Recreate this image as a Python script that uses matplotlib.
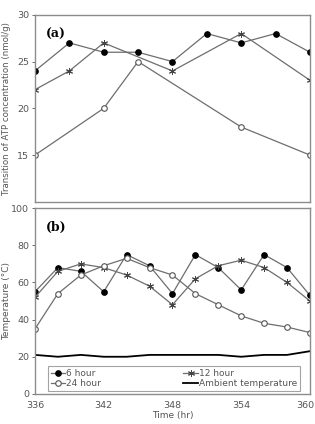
import matplotlib
matplotlib.use("Agg")
import matplotlib.pyplot as plt
import matplotlib.transforms as mtransforms

# (a) ATP concentration (nmol/g)
t6_atp = [336, 339, 342, 345, 348, 351, 354, 357, 360]
atp6 = [24, 27, 26, 26, 25, 28, 27, 28, 26]
t12_atp = [336, 339, 342, 348, 354, 360]
atp12 = [22, 24, 27, 24, 28, 23]
t24_atp = [336, 342, 345, 354, 360]
atp24 = [15, 20, 25, 18, 15]

# (b) temperature (C)
t_temp = [336, 338, 340, 342, 344, 346, 348, 350, 352, 354, 356, 358, 360]
temp6 = [55, 68, 66, 55, 75, 69, 54, 75, 68, 56, 75, 68, 53]
temp12 = [52, 66, 70, 68, 64, 58, 48, 62, 69, 72, 68, 60, 50]
temp24 = [35, 54, 64, 69, 73, 68, 64, 54, 48, 42, 38, 36, 33]
ambient = [21, 20, 21, 20, 20, 21, 21, 21, 21, 20, 21, 21, 23]

xticks = [336, 342, 348, 354, 360]
line_c = "#6e6e6e"
spine_c = "#8c8c8c"
text_c = "#555555"

fig = plt.figure(figsize=(3.15, 4.24), dpi=100)
ax1 = fig.add_axes([0.111, 0.524, 0.873, 0.441])
ax2 = fig.add_axes([0.111, 0.071, 0.873, 0.438])

mk = dict(markersize=4, markeredgewidth=0.8)
style6 = dict(color=line_c, marker="o", markerfacecolor="black", markeredgecolor="black", lw=0.9, **mk)
style12 = dict(color=line_c, marker=(6, 2, 0), markeredgecolor="#444444", lw=0.9, markersize=5, markeredgewidth=0.7)
style24 = dict(color=line_c, marker="o", markerfacecolor="white", markeredgecolor="#555555", lw=0.9, **mk)

ax1.plot(t6_atp, atp6, **style6)
ax1.plot(t12_atp, atp12, **style12)
ax1.plot(t24_atp, atp24, **style24)
ax1.set_xlim(336, 360)
ax1.set_ylim(10, 30)
ax1.set_yticks([15, 20, 25, 30])
ax1.set_xticks(xticks)
ax1.set_xticklabels([])
ax1.set_ylabel("Transition of ATP concentration (nmol/g)", fontsize=6.2, color=text_c)
ax1.text(0.04, 0.93, "(a)", transform=ax1.transAxes, fontsize=9, fontweight="bold",
         family="DejaVu Serif", va="top")

h6, = ax2.plot(t_temp, temp6, label="6 hour", **style6)
h12, = ax2.plot(t_temp, temp12, label="12 hour", **style12)
h24, = ax2.plot(t_temp, temp24, label="24 hour", **style24)
ha, = ax2.plot(t_temp, ambient, color="black", lw=1.3, label="Ambient temperature")
ax2.set_xlim(336, 360)
ax2.set_ylim(0, 100)
ax2.set_yticks([0, 20, 40, 60, 80, 100])
ax2.set_xticks(xticks)
ax2.set_ylabel("Temperature (°C)", fontsize=6.5, color=text_c)
ax2.set_xlabel("Time (hr)", fontsize=6.5, color=text_c, labelpad=1)
ax2.text(0.04, 0.93, "(b)", transform=ax2.transAxes, fontsize=9, fontweight="bold",
         family="DejaVu Serif", va="top")
leg = ax2.legend([h6, h24, h12, ha], ["6 hour", "24 hour", "12 hour", "Ambient temperature"],
                 ncol=2, loc="lower left", bbox_to_anchor=(0.047, 0.015, 0.916, 0.14),
                 mode="expand", fontsize=6.5, frameon=True, fancybox=False,
                 handlelength=1.6, handletextpad=0.1, borderpad=0.3, labelspacing=0.15,
                 borderaxespad=0)
leg.get_frame().set_edgecolor(spine_c)
leg.get_frame().set_linewidth(0.8)
for t in leg.get_texts():
    t.set_color(text_c)

for ax in (ax1, ax2):
    for s in ax.spines.values():
        s.set_color(spine_c)
        s.set_linewidth(1.0)
    ax.tick_params(labelsize=6.8, colors=text_c, length=2, width=0.6, pad=2)
    ax.tick_params(axis="x", length=0, pad=5)
    ax.yaxis.set_label_coords(-0.088, 0.5)

# nudge the last x tick label inward so it stays on the canvas
last = ax2.get_xticklabels()[-1]
last.set_transform(last.get_transform() + mtransforms.ScaledTranslation(-5 / 100, 0, fig.dpi_scale_trans))

fig.savefig("out.png", dpi=100)
